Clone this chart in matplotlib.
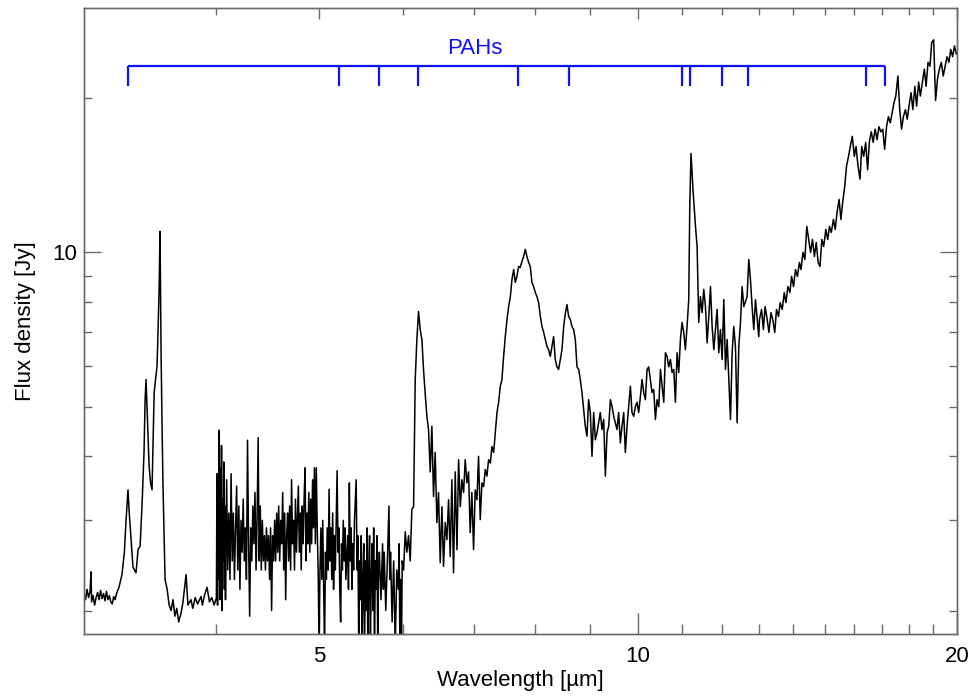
import matplotlib
matplotlib.use("Agg")
import matplotlib.pyplot as plt
import numpy as np

plt.rcParams['font.family'] = ['Liberation Sans', 'DejaVu Sans']

# ---------------- data ----------------
wl_seg1 = [3.00, 3.01, 3.02, 3.03, 3.04, 3.046, 3.05, 3.06, 3.07, 3.08, 3.09, 3.10,
           3.11, 3.12, 3.13, 3.14, 3.15, 3.16, 3.17, 3.18, 3.19, 3.20, 3.21, 3.22,
           3.237, 3.258, 3.275, 3.287, 3.301, 3.31, 3.323, 3.337, 3.359, 3.374, 3.389,
           3.404, 3.418, 3.426, 3.433, 3.441, 3.456, 3.467, 3.478, 3.494, 3.516, 3.524,
           3.532, 3.539, 3.547, 3.555, 3.562, 3.578, 3.594, 3.61, 3.625, 3.64, 3.655,
           3.67, 3.685, 3.705, 3.72, 3.745, 3.76, 3.785, 3.80, 3.82, 3.84, 3.869, 3.88,
           3.90, 3.92, 3.94, 3.96, 3.98, 3.995]
fx_seg1 = [2.15, 2.10, 2.20, 2.12, 2.18, 2.38, 2.08, 2.14, 2.05, 2.12, 2.17, 2.10,
           2.19, 2.11, 2.16, 2.09, 2.18, 2.10, 2.14, 2.08, 2.06, 2.13, 2.10, 2.16,
           2.22, 2.35, 2.60, 3.00, 3.44, 3.10, 2.75, 2.43, 2.37, 2.63, 2.67,
           3.25, 4.07, 5.16, 5.65, 4.94, 3.82, 3.55, 3.44, 5.33, 6.00, 7.07,
           8.5, 11.0, 6.38, 4.5, 3.49, 2.30, 2.20, 2.05, 2.00, 2.10, 1.95,
           2.02, 1.90, 1.98, 2.08, 2.35, 2.05, 2.10, 2.02, 2.12, 2.06, 2.13, 2.05,
           2.15, 2.22, 2.08, 2.12, 2.05, 2.10]

wl_seg2 = [4.000, 4.005, 4.010, 4.015, 4.020, 4.025, 4.030, 4.035, 4.040, 4.045, 4.050,
           4.055, 4.060, 4.065, 4.070, 4.075, 4.080, 4.090, 4.100, 4.110, 4.120, 4.130,
           4.140, 4.150, 4.160, 4.170, 4.180, 4.190, 4.200, 4.210, 4.220, 4.230, 4.240,
           4.250, 4.260, 4.270, 4.280, 4.290, 4.300, 4.310, 4.320, 4.330, 4.340, 4.350,
           4.360, 4.370, 4.380, 4.390, 4.400, 4.410, 4.420, 4.430, 4.440, 4.450, 4.460,
           4.470, 4.480, 4.490, 4.500, 4.510, 4.520, 4.530, 4.540, 4.550, 4.560, 4.570,
           4.580, 4.590, 4.600, 4.610, 4.620, 4.630, 4.640, 4.650, 4.660, 4.670, 4.680,
           4.690, 4.700, 4.710, 4.720, 4.730, 4.740, 4.750, 4.760, 4.770, 4.780, 4.790,
           4.800, 4.810, 4.820, 4.830, 4.840, 4.850, 4.860, 4.870, 4.880, 4.890, 4.900,
           4.910, 4.920, 4.930, 4.940, 4.950, 4.960, 4.970, 4.980, 4.990, 5.000, 5.010,
           5.020, 5.030, 5.040, 5.050, 5.060, 5.070, 5.080, 5.090, 5.100, 5.110, 5.120,
           5.130, 5.140, 5.150, 5.160, 5.170, 5.180, 5.190, 5.200, 5.210, 5.220, 5.230,
           5.240, 5.250, 5.260, 5.270, 5.280, 5.290, 5.300, 5.320, 5.330, 5.340, 5.350,
           5.360, 5.370, 5.380, 5.390, 5.400, 5.420, 5.430, 5.440, 5.450, 5.460, 5.470,
           5.480, 5.490, 5.500, 5.510, 5.520, 5.530, 5.540, 5.550, 5.560, 5.570, 5.580,
           5.590, 5.600, 5.610, 5.620, 5.630, 5.640, 5.650, 5.660, 5.670, 5.680, 5.690,
           5.700, 5.720, 5.740, 5.750, 5.760, 5.780, 5.800, 5.820, 5.830, 5.840, 5.860,
           5.880, 5.900, 5.920, 5.940, 5.950, 5.960, 5.970, 5.980, 5.990]
fx_seg2 = [2.10, 3.70, 2.05, 3.50, 2.30, 4.50, 2.10, 3.80, 2.40, 4.20, 2.00,
           3.30, 2.50, 3.90, 2.20, 3.20, 2.10, 3.60, 2.40, 3.10, 2.30, 3.70,
           2.50, 3.10, 2.30, 2.90, 3.50, 2.40, 3.20, 2.20, 3.00, 2.60, 3.30,
           2.50, 2.90, 2.30, 4.30, 2.70, 1.95, 2.90, 2.50, 3.20, 2.70, 3.40,
           2.40, 3.00, 4.35, 2.50, 3.20, 2.40, 3.00, 2.50, 2.80, 2.40, 2.90,
           2.50, 2.80, 2.30, 2.90, 2.00, 2.80, 2.50, 3.00, 2.50, 3.10, 2.60,
           3.20, 2.50, 3.00, 2.70, 3.40, 2.40, 3.10, 2.10, 2.80, 3.10, 2.50,
           3.20, 2.40, 3.60, 2.70, 3.00, 2.40, 3.30, 2.60, 3.00, 3.50, 2.60,
           3.10, 2.40, 3.20, 2.70, 3.30, 3.80, 2.50, 3.10, 2.70, 3.40, 2.60,
           3.30, 2.70, 3.60, 2.90, 3.80, 2.70, 3.80, 2.90, 2.40, 1.70, 2.40,
           2.90, 2.30, 3.00, 2.20, 1.70, 2.60, 2.30, 2.90, 2.40, 3.45, 2.50,
           2.90, 2.30, 3.10, 2.20, 2.80, 2.40, 3.00, 3.75, 2.60, 2.90, 2.20,
           1.90, 2.70, 2.40, 3.00, 2.50, 2.90, 2.30, 2.80, 2.20, 3.55, 2.50,
           2.90, 2.20, 2.70, 2.40, 3.00, 3.60, 2.40, 2.80, 1.70, 2.50, 2.10,
           2.80, 1.60, 2.30, 2.70, 1.70, 2.50, 2.00, 2.90, 1.60, 2.40, 2.80,
           1.70, 2.30, 2.70, 2.00, 2.90, 1.60, 2.50, 2.20, 2.80, 1.70, 2.40,
           2.60, 2.10, 2.70, 2.20, 2.60, 2.00, 2.50, 3.20, 2.30, 2.60, 1.90,
           2.50, 1.70, 2.40, 2.20, 2.70, 1.70, 2.30, 1.60, 2.50]

wl_seg3 = [6.008, 6.030, 6.051, 6.073, 6.095, 6.117, 6.140, 6.162, 6.184, 6.206, 6.229,
           6.252, 6.274, 6.297, 6.320, 6.343, 6.366, 6.389, 6.412, 6.435, 6.459, 6.482,
           6.506, 6.530, 6.553, 6.577, 6.601, 6.625, 6.649, 6.673, 6.697, 6.722, 6.747,
           6.771, 6.796, 6.820, 6.845, 6.869, 6.894, 6.919, 6.944, 6.969, 6.995, 7.020,
           7.046, 7.071, 7.097, 7.123, 7.149, 7.175, 7.201, 7.227, 7.254, 7.280, 7.307,
           7.333, 7.360, 7.386, 7.413, 7.440, 7.467, 7.494, 7.522, 7.549, 7.577, 7.604,
           7.632, 7.659, 7.686, 7.714, 7.742, 7.770, 7.798, 7.827, 7.855, 7.884, 7.912,
           7.941, 7.970, 7.999, 8.028, 8.057, 8.087, 8.116, 8.146, 8.175, 8.205, 8.234,
           8.264, 8.294, 8.324, 8.354, 8.385, 8.415, 8.446, 8.477, 8.508, 8.538, 8.569,
           8.600, 8.631, 8.663, 8.694, 8.726, 8.758, 8.790, 8.821, 8.853, 8.885, 8.917,
           8.950, 8.982, 9.015, 9.048, 9.081, 9.114, 9.147, 9.180, 9.213, 9.247, 9.281,
           9.315, 9.349, 9.383, 9.417, 9.451, 9.485, 9.519, 9.553, 9.588, 9.623, 9.658,
           9.693, 9.728, 9.764, 9.799, 9.835, 9.870, 9.906, 9.942, 9.978, 10.014, 10.051,
           10.088, 10.124, 10.161, 10.198, 10.235, 10.272, 10.309, 10.347, 10.385, 10.423,
           10.461, 10.499, 10.537, 10.575, 10.613, 10.651, 10.690, 10.729, 10.768, 10.807,
           10.846, 10.886, 10.925, 10.965, 11.004, 11.044, 11.084, 11.124, 11.165, 11.19,
           11.22, 11.27, 11.33, 11.37, 11.41, 11.452, 11.494, 11.536, 11.578, 11.620,
           11.662, 11.705, 11.747, 11.790, 11.832, 11.875, 11.918, 11.961, 12.005, 12.049,
           12.093, 12.137, 12.181, 12.225, 12.269, 12.313, 12.358, 12.403, 12.448, 12.493,
           12.538, 12.584, 12.675, 12.721, 12.767, 12.813, 12.860, 12.907, 13.00]
fx_seg3 = [2.40, 2.85, 2.60, 2.80, 2.50, 3.15, 3.19, 5.65, 6.76, 7.67, 7.07,
           6.76, 5.91, 5.30, 4.79, 4.51, 3.73, 4.58, 3.34, 4.07, 2.97, 3.40,
           2.48, 3.19, 2.44, 2.97, 2.75, 3.29, 2.55, 3.60, 2.37, 3.73, 2.63,
           3.94, 3.19, 3.60, 3.40, 3.94, 3.55, 3.73, 2.84, 3.40, 2.63, 3.44,
           3.29, 4.00, 3.01, 3.55, 3.49, 3.77, 3.66, 3.94, 3.88, 4.18, 4.07,
           4.45, 4.87, 5.10, 5.48, 5.65, 6.27, 6.85, 7.40, 7.84, 8.20, 8.86,
           9.26, 8.74, 8.98, 9.39, 9.35, 9.60, 9.82, 10.14, 9.82, 9.56, 9.39,
           8.74, 8.58, 8.35, 8.20, 7.98, 7.50, 7.17, 6.98, 6.76, 6.55, 6.46,
           6.27, 6.55, 6.85, 6.18, 5.98, 5.91, 6.18, 6.46, 7.17, 7.60, 7.91,
           7.50, 7.40, 7.17, 7.07, 6.76, 5.98, 5.91, 5.65, 5.33, 4.94, 4.58,
           4.38, 5.16, 4.87, 4.00, 4.87, 4.31, 4.45, 4.65, 4.87, 4.51, 4.72,
           3.66, 4.45, 4.58, 5.16, 5.00, 4.79, 4.65, 4.51, 4.87, 4.25, 4.58,
           4.87, 4.07, 4.58, 5.00, 5.48, 4.87, 4.79, 5.00, 5.10, 4.87, 5.23,
           5.65, 5.33, 5.16, 5.91, 5.98, 5.65, 5.33, 5.40, 4.72, 5.16,
           5.00, 5.91, 5.48, 5.10, 6.37, 6.27, 5.98, 6.18, 5.83, 5.91,
           5.10, 6.37, 5.83, 6.76, 7.30, 6.98, 6.46, 7.17, 8.09, 12.3,
           15.6, 13.2, 11.24, 10.27, 7.30, 8.20, 7.63, 8.47, 7.84, 6.66,
           7.50, 8.58, 7.17, 6.46, 7.07, 7.74, 6.37, 7.07, 6.18, 8.09,
           5.91, 6.76, 5.65, 4.72, 6.37, 7.17, 6.55, 4.65, 6.55, 7.30,
           8.58, 7.84, 8.20, 9.69, 8.86, 7.84, 7.07, 8.09, 6.85]

wl_seg4 = [13.02, 13.08, 13.13, 13.18, 13.24, 13.29, 13.35, 13.40, 13.46, 13.51, 13.57,
           13.62, 13.68, 13.74, 13.79, 13.85, 13.91, 13.96, 14.02, 14.08, 14.14, 14.20,
           14.25, 14.31, 14.37, 14.43, 14.49, 14.55, 14.61, 14.67, 14.73, 14.79, 14.85,
           14.91, 14.97, 15.04, 15.10, 15.16, 15.22, 15.29, 15.35, 15.41, 15.48, 15.54,
           15.60, 15.67, 15.73, 15.80, 15.86, 15.93, 16.00, 16.06, 16.13, 16.20, 16.26,
           16.33, 16.40, 16.47, 16.53, 16.60, 16.67, 16.74, 16.81, 16.88, 16.95, 17.02,
           17.09, 17.16, 17.23, 17.30, 17.37, 17.44, 17.51, 17.59, 17.66, 17.73, 17.80,
           17.88, 17.95, 18.02, 18.10, 18.17, 18.25, 18.32, 18.40, 18.47, 18.55, 18.63,
           18.70, 18.78, 18.86, 18.93, 19.01, 19.09, 19.17, 19.25, 19.33, 19.41, 19.49,
           19.57, 19.65, 19.73, 19.81, 19.89, 19.97]
fx_seg4 = [7.40, 7.74, 7.07, 7.84, 7.40, 6.98, 7.63, 7.40, 6.98, 7.74, 7.50,
           7.98, 7.74, 8.35, 7.98, 8.58, 8.35, 8.98, 8.58, 9.26, 8.98, 9.56,
           9.26, 10.0, 9.69, 11.24, 10.6, 10.0, 10.6, 9.82, 10.46, 9.56, 9.39,
           10.6, 10.27, 11.09, 10.6, 11.24, 10.94, 11.6, 11.09, 11.97, 12.69, 11.6,
           12.52, 13.46, 14.72, 15.4, 16.1, 16.85, 15.4, 16.1, 14.72, 13.9, 16.1,
           15.4, 16.4, 14.5, 16.4, 17.2, 16.4, 17.4, 16.6, 17.6, 17.2, 17.4,
           15.9, 17.6, 18.4, 17.9, 18.75, 19.6, 20.2, 22.1, 19.0, 17.4, 18.4,
           19.0, 18.2, 19.3, 20.5, 19.0, 21.1, 19.3, 21.5, 20.2, 21.5, 22.8,
           21.1, 23.5, 23.1, 25.7, 26.0, 19.8, 21.8, 22.8, 23.5, 22.1, 23.1,
           24.1, 23.5, 24.9, 24.1, 25.3, 24.4]

pah_wl = [3.3, 5.22, 5.7, 6.2, 7.7, 8.6, 11.0, 11.2, 12.0, 12.7, 16.4, 17.1]
pah_bar_flux = 23.1
pah_tick_flux = 21.1

xmajor = [5, 10, 20]
xminor = [4, 6, 7, 8, 9, 11, 12, 13, 14, 15, 16, 17, 18, 19]
ymajor = [10]
yminor = [2, 3, 4, 5, 6, 7, 8, 9, 20]

# ---------------- figure ----------------
fig = plt.figure(figsize=(9.72, 6.97), dpi=100)
ax = fig.add_axes([84 / 972, 1 - 634 / 697, (957 - 84) / 972, (634 - 8) / 697])

wl = np.concatenate([wl_seg1, wl_seg2, wl_seg3, wl_seg4])
fx = np.concatenate([fx_seg1, fx_seg2, fx_seg3, fx_seg4])
ax.plot(wl, fx, color='black', lw=1.1)

ax.set_xscale('log')
ax.set_yscale('log')
ax.set_xlim(3, 20)
ax.set_ylim(1.8, 30)

spine_col = '#6a6a6a'
for s in ax.spines.values():
    s.set_color(spine_col)
    s.set_linewidth(1.0)

ax.set_xticks(xmajor)
ax.set_xticklabels([str(v) for v in xmajor])
ax.set_xticks(xminor, minor=True)
ax.set_xticklabels([], minor=True)
ax.set_yticks(ymajor)
ax.set_yticklabels([str(v) for v in ymajor])
ax.set_yticks(yminor, minor=True)
ax.set_yticklabels([], minor=True)

ax.tick_params(axis='both', which='both', direction='in', color=spine_col,
               width=1.0, labelsize=16, labelcolor='black')
ax.tick_params(axis='x', which='major', length=15, pad=9, top=False)
ax.tick_params(axis='x', which='minor', length=7.5, top=False)
ax.tick_params(axis='y', which='major', length=12, pad=5, right=True)
ax.tick_params(axis='y', which='minor', length=6, right=True)

# top axis with shorter ticks
axt = ax.twiny()
axt.set_xscale('log')
axt.set_xlim(3, 20)
axt.set_xticks(xmajor)
axt.set_xticks(xminor, minor=True)
axt.set_xticklabels([])
axt.set_xticklabels([], minor=True)
axt.tick_params(axis='x', which='major', direction='in', length=8, color=spine_col, width=1.0)
axt.tick_params(axis='x', which='minor', direction='in', length=5, color=spine_col, width=1.0)
for s in axt.spines.values():
    s.set_color(spine_col)
    s.set_linewidth(1.0)

ax.set_xlabel('Wavelength [µm]', fontsize=16, labelpad=2)
ax.set_ylabel('Flux density [Jy]', fontsize=16, labelpad=12)

# PAH bracket
blue = '#1010ff'
ax.plot([pah_wl[0], pah_wl[-1]], [pah_bar_flux, pah_bar_flux], color=blue, lw=1.6,
        solid_capstyle='butt')
for w in pah_wl:
    ax.plot([w, w], [pah_tick_flux, pah_bar_flux], color=blue, lw=1.6,
            solid_capstyle='butt')
ax.text(7.02, 25.0, 'PAHs', color=blue, fontsize=16, ha='center', va='center')

fig.savefig('out.png', dpi=100)
